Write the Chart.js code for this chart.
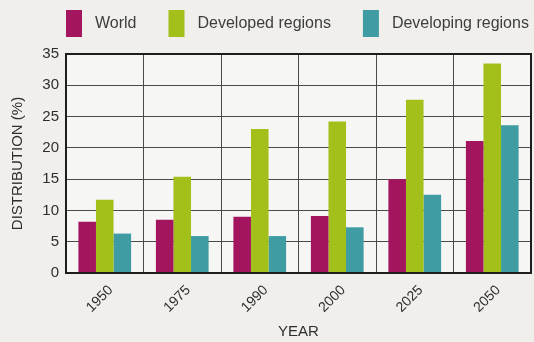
<!DOCTYPE html>
<html>
<head>
<meta charset="utf-8">
<script src="https://cdn.jsdelivr.net/npm/chart.js@4/dist/chart.umd.min.js"></script>
<style>
  html, body { margin: 0; padding: 0; background: #f0efeb; }
  #wrap { width: 534px; height: 342px; position: relative; }
</style>
</head>
<body>
<div id="wrap"><canvas id="chart"></canvas></div>
<script>
// -----------------------------
// DATA
// -----------------------------
const years = ["1950", "1975", "1990", "2000", "2025", "2050"];
const worldValues = [8.2, 8.5, 9.0, 9.1, 15.0, 21.1];
const developedValues = [11.7, 15.4, 23.0, 24.2, 27.7, 33.5];
const developingValues = [6.3, 5.9, 5.9, 7.3, 12.5, 23.6];
const yTicks = [0, 5, 10, 15, 20, 25, 30, 35];

const FONT = 'Arial, "Liberation Sans", Helvetica, sans-serif';

// -----------------------------
// PLUGINS
// -----------------------------
// light fill behind the plot area
const plotBackground = {
  id: "plotBackground",
  beforeDraw(chart) {
    const { ctx, chartArea: a } = chart;
    ctx.save();
    ctx.fillStyle = "#f6f6f4";
    ctx.fillRect(a.left, a.top, a.right - a.left, a.bottom - a.top);
    ctx.restore();
  }
};

// heavy frame around the plot
const plotFrame = {
  id: "plotFrame",
  afterDraw(chart) {
    const { ctx, chartArea: a } = chart;
    ctx.save();
    ctx.strokeStyle = "#1e1e1e";
    ctx.lineWidth = 2;
    ctx.strokeRect(a.left, a.top, a.right - a.left, a.bottom - a.top);
    ctx.restore();
  }
};

// legend row across the top: tall colour swatch + label
const topLegend = {
  id: "topLegend",
  afterDraw(chart) {
    const ctx = chart.ctx;
    let x = 66;
    ctx.save();
    ctx.font = "16px " + FONT;
    ctx.textBaseline = "middle";
    chart.data.datasets.forEach(ds => {
      ctx.fillStyle = ds.backgroundColor;
      ctx.fillRect(x, 10, 16, 27);
      x += 16 + 13;
      ctx.fillStyle = "#3d3d3d";
      ctx.fillText(ds.label, x, 24);
      x += ctx.measureText(ds.label).width + 32;
    });
    ctx.restore();
  }
};

// -----------------------------
// CHART
// -----------------------------
new Chart(document.getElementById("chart"), {
  type: "bar",
  data: {
    labels: years,
    datasets: [
      { label: "World", data: worldValues, backgroundColor: "#a4155f" },
      { label: "Developed regions", data: developedValues, backgroundColor: "#a2bf1a" },
      { label: "Developing regions", data: developingValues, backgroundColor: "#3e9ca2" }
    ]
  },
  options: {
    responsive: true,
    maintainAspectRatio: false,
    animation: false,
    layout: { padding: { top: 54, right: 3, left: 9, bottom: 0 } },
    datasets: {
      bar: { categoryPercentage: 0.68, barPercentage: 1.0, borderWidth: 0 }
    },
    plugins: {
      legend: { display: false },
      tooltip: { enabled: false }
    },
    scales: {
      x: {
        grid: { color: "#4a4a4a", lineWidth: 1, drawTicks: false, offset: true },
        border: { display: false },
        ticks: {
          color: "#2e2e2e",
          font: { family: FONT, size: 14 },
          minRotation: 45,
          maxRotation: 45,
          labelOffset: 6,
          padding: 9
        },
        title: {
          display: true,
          text: "YEAR",
          color: "#2e2e2e",
          font: { family: FONT, size: 15 },
          padding: { top: 0, bottom: 1 }
        },
        afterFit(scale) { scale.height = 342 - 273; }
      },
      y: {
        min: 0,
        max: 35,
        afterBuildTicks(scale) { scale.ticks = yTicks.map(v => ({ value: v })); },
        grid: { color: "#4a4a4a", lineWidth: 1, drawTicks: false },
        border: { display: false },
        ticks: {
          color: "#2e2e2e",
          font: { family: FONT, size: 15 },
          padding: 7
        },
        title: {
          display: true,
          text: "DISTRIBUTION (%)",
          color: "#2e2e2e",
          font: { family: FONT, size: 15 },
          padding: { top: 0, bottom: 0 }
        },
        afterFit(scale) { scale.width = 57; }
      }
    }
  },
  plugins: [plotBackground, plotFrame, topLegend]
});
</script>
</body>
</html>
